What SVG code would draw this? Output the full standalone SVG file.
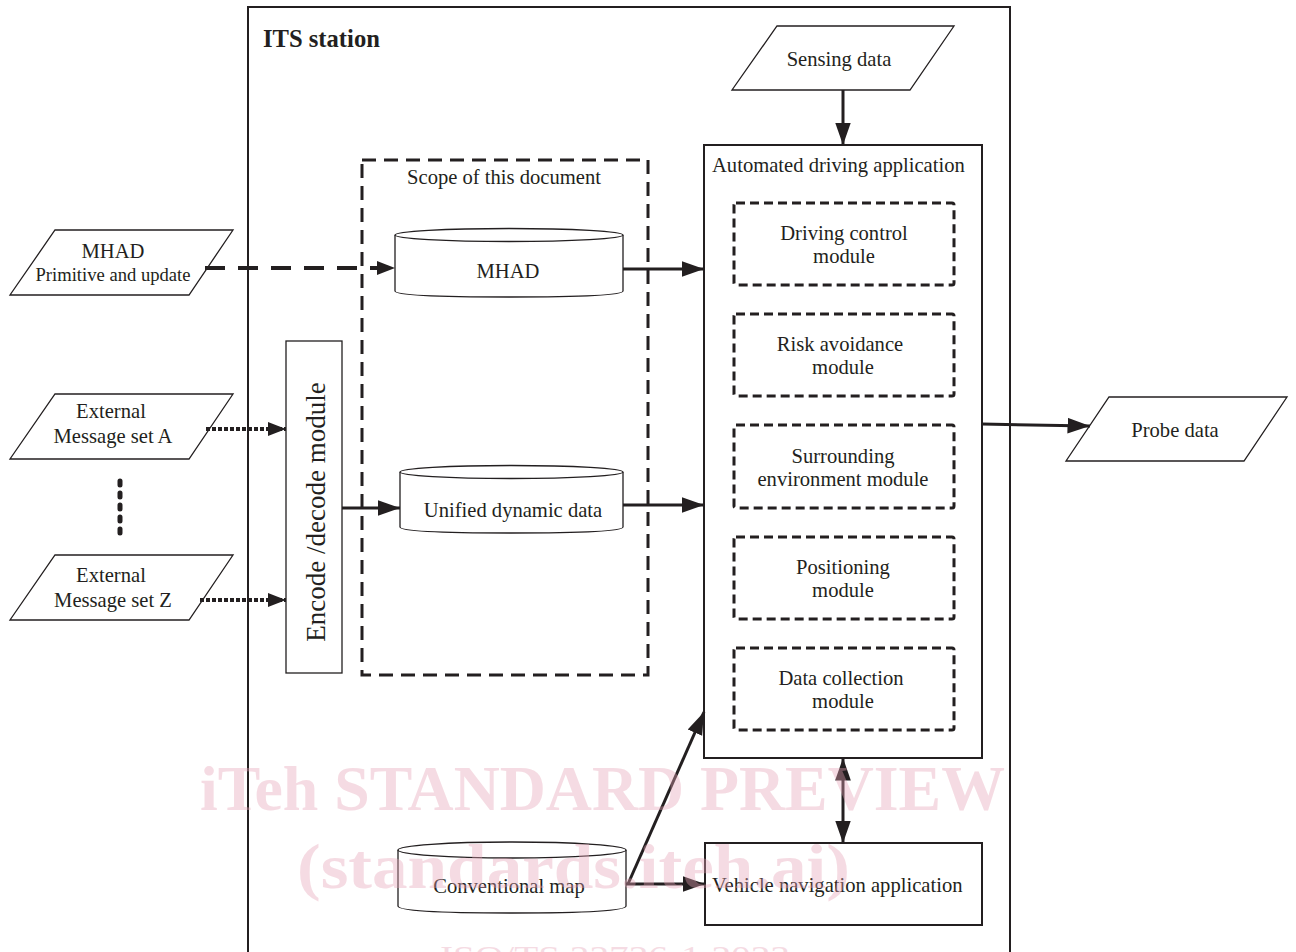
<svg xmlns="http://www.w3.org/2000/svg" width="1296" height="952" viewBox="0 0 1296 952">
<defs>
<style>
.t{font-family:"Liberation Serif","Times New Roman",serif;font-size:20.6px;fill:#231f20;}
.c{text-anchor:middle;}
.box{fill:#fff;stroke:#231f20;stroke-width:2;}
.thin{fill:#fff;stroke:#231f20;stroke-width:1.3;}
.mod{fill:none;stroke:#231f20;stroke-width:3;stroke-dasharray:9 5;}
.ln{fill:none;stroke:#231f20;stroke-width:3;}
.wm{font-family:"Liberation Serif","Times New Roman",serif;font-weight:bold;fill:#e7a3b6;opacity:0.38;}
</style>
<marker id="ah" viewBox="0 0 10 10" refX="10" refY="5" markerWidth="18" markerHeight="14" markerUnits="userSpaceOnUse" orient="auto-start-reverse" preserveAspectRatio="none">
<path d="M0,0 L10,5 L0,10 z" fill="#231f20"/>
</marker>
<marker id="ahb" viewBox="0 0 10 10" refX="10" refY="5" markerWidth="7.5" markerHeight="7.5" orient="auto-start-reverse">
<path d="M0,1.5 L10,5 L0,8.5 z" fill="#231f20"/>
</marker>
</defs>
<rect width="1296" height="952" fill="#fff"/>

<g id="its-station">
<rect x="248" y="7" width="762" height="960" class="box"/>
<text x="263" y="47" class="t" style="font-weight:bold;font-size:24.6px">ITS station</text>
</g>

<g id="scope">
<rect x="362" y="160" width="286" height="515" fill="none" stroke="#231f20" stroke-width="3" stroke-dasharray="14 8"/>
<text x="504" y="184" class="t c">Scope of this document</text>
</g>

<g id="sensing-data">
<polygon points="777,26 954,26 910,90 732,90" class="thin"/>
<text x="839" y="66" class="t c">Sensing data</text>
</g>

<g id="probe-data">
<polygon points="1109,397 1287,397 1244,461 1066,461" class="thin"/>
<text x="1175" y="437" class="t c">Probe data</text>
</g>

<g id="mhad-input">
<polygon points="55,230 233,230 189,295 10,295" class="thin"/>
<text x="113" y="258" class="t c">MHAD</text>
<text x="113" y="281" class="t c" style="font-size:18.6px">Primitive and update</text>
</g>

<g id="ext-a">
<polygon points="55,394 233,394 189,459 10,459" class="thin"/>
<text x="111" y="418" class="t c">External</text>
<text x="113" y="443" class="t c">Message set A</text>
</g>

<g id="ext-z">
<polygon points="55,555 233,555 189,620 10,620" class="thin"/>
<text x="111" y="582" class="t c">External</text>
<text x="113" y="607" class="t c">Message set Z</text>
</g>

<g id="ellipsis">
<line x1="120" y1="481" x2="120" y2="535" stroke="#231f20" stroke-width="5" stroke-linecap="round" stroke-dasharray="4 8"/>
</g>

<g id="encode-decode">
<rect x="286" y="341" width="56" height="332" class="thin"/>
<text transform="translate(325,512) rotate(-90)" class="t c" style="font-size:27px">Encode /decode module</text>
</g>

<g id="mhad-db">
<path d="M395,235 L395,291 Q395,297 509,297 Q623,297 623,291 L623,235" class="thin"/>
<ellipse cx="509" cy="235" rx="114" ry="6.5" class="thin"/>
<text x="508" y="278" class="t c">MHAD</text>
</g>

<g id="unified-db">
<path d="M400,472 L400,527 Q400,533 511,533 Q623,533 623,527 L623,472" class="thin"/>
<ellipse cx="511.5" cy="472" rx="111.5" ry="6.5" class="thin"/>
<text x="513" y="517" class="t c">Unified dynamic data</text>
</g>

<g id="conventional-map">
<path d="M398,850 L398,906 Q398,913 512,913 Q626,913 626,906 L626,850" class="thin"/>
<ellipse cx="512" cy="850" rx="114" ry="8" class="thin"/>
<text x="509" y="893" class="t c">Conventional map</text>
</g>

<g id="automated-driving">
<rect x="704" y="145" width="278" height="613" class="box"/>
<text x="712" y="172" class="t">Automated driving application</text>
</g>

<g id="driving-control">
<rect x="734" y="203" width="220" height="82" rx="2" class="mod"/>
<text x="844" y="240" class="t c">Driving control</text>
<text x="844" y="263" class="t c">module</text>
</g>
<g id="risk-avoidance">
<rect x="734" y="314" width="220" height="82" rx="2" class="mod"/>
<text x="840" y="351" class="t c">Risk avoidance</text>
<text x="843" y="374" class="t c">module</text>
</g>
<g id="surrounding">
<rect x="734" y="425" width="220" height="83" rx="2" class="mod"/>
<text x="843" y="463" class="t c">Surrounding</text>
<text x="843" y="486" class="t c">environment module</text>
</g>
<g id="positioning">
<rect x="734" y="537" width="220" height="82" rx="2" class="mod"/>
<text x="843" y="574" class="t c">Positioning</text>
<text x="843" y="597" class="t c">module</text>
</g>
<g id="data-collection">
<rect x="734" y="648" width="220" height="82" rx="2" class="mod"/>
<text x="841" y="685" class="t c">Data collection</text>
<text x="843" y="708" class="t c">module</text>
</g>

<g id="vehicle-navigation">
<rect x="705" y="843" width="277" height="82" class="box"/>
<text x="712" y="892" class="t">Vehicle navigation application</text>
</g>

<g id="connectors">
<line x1="843" y1="90" x2="843" y2="145" class="ln" marker-end="url(#ahb)"/>
<line x1="982" y1="424" x2="1090" y2="426" class="ln" marker-end="url(#ahb)"/>
<line x1="205" y1="268" x2="395" y2="268" fill="none" stroke="#231f20" stroke-width="4" stroke-dasharray="20 13" marker-end="url(#ah)"/>
<line x1="623" y1="269" x2="704" y2="269" class="ln" marker-end="url(#ahb)"/>
<line x1="206" y1="429" x2="286" y2="429" fill="none" stroke="#231f20" stroke-width="4" stroke-dasharray="4 2" marker-end="url(#ah)"/>
<line x1="200" y1="600" x2="286" y2="600" fill="none" stroke="#231f20" stroke-width="4" stroke-dasharray="4 2" marker-end="url(#ah)"/>
<line x1="342" y1="508" x2="400" y2="508" class="ln" marker-end="url(#ahb)"/>
<line x1="623" y1="505" x2="704" y2="505" class="ln" marker-end="url(#ahb)"/>
<line x1="626" y1="884" x2="705" y2="884" class="ln" marker-end="url(#ahb)"/>
<line x1="628" y1="884" x2="704" y2="712" class="ln" marker-end="url(#ahb)"/>
<line x1="843" y1="758" x2="843" y2="843" class="ln" marker-start="url(#ahb)" marker-end="url(#ahb)"/>
</g>

<g id="watermark">
<text x="200" y="810" class="wm" style="font-size:64px" textLength="805" lengthAdjust="spacingAndGlyphs">iTeh STANDARD PREVIEW</text>
<text x="297" y="888" class="wm" style="font-size:64px" textLength="553" lengthAdjust="spacingAndGlyphs">(standards.iteh.ai)</text>
<text x="440" y="966" class="wm" style="font-size:30px;font-weight:normal" textLength="350" lengthAdjust="spacingAndGlyphs">ISO/TS 22726-1:2023</text>
</g>
</svg>
